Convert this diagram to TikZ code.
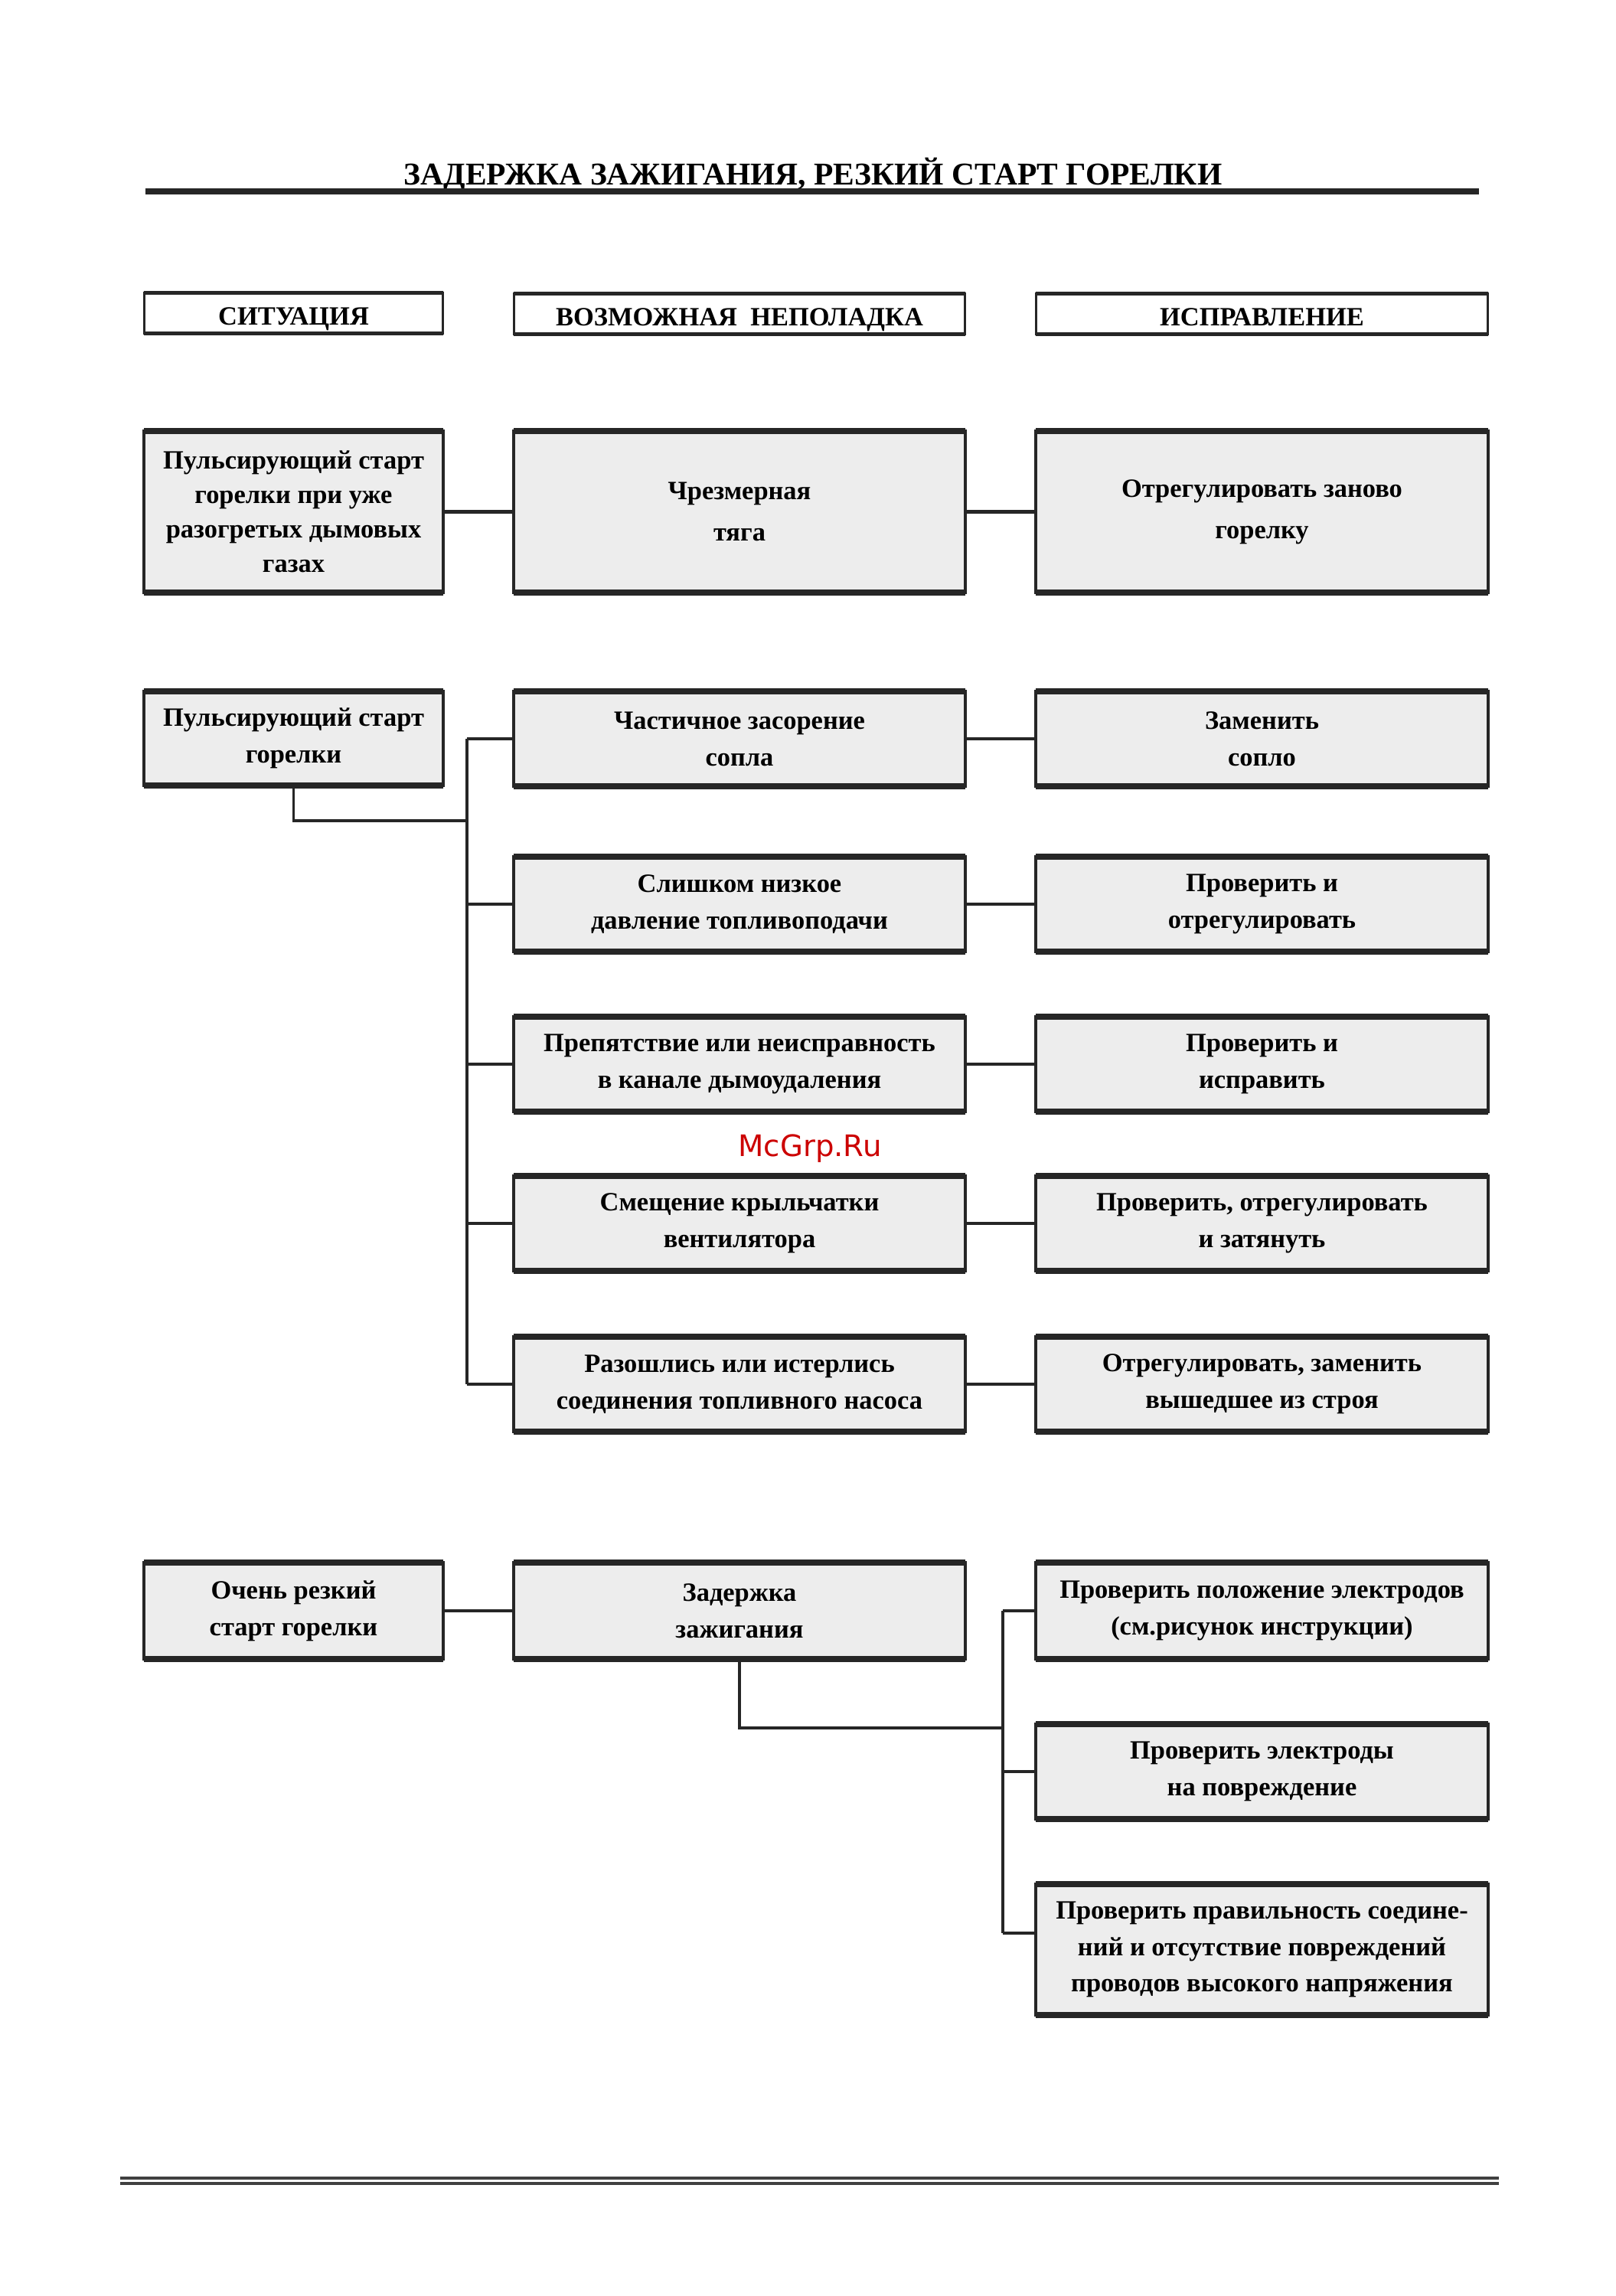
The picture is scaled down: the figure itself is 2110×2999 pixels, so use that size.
\documentclass[tikz,border=0pt]{standalone}
\usepackage{fontspec}
\setmainfont{Liberation Serif}
\newfontfamily\wmfont{DejaVu Sans}
\begin{document}
\begin{tikzpicture}[x=0.1mm,y=-0.1mm,
  txt/.style={font=\bfseries\fontsize{9.8}{13.6}\selectfont, align=center, inner sep=0pt},
  hdr/.style={txt, minimum height=5.2mm},
  cbox/.style={txt, fill=black!7, minimum height=12.2mm},
  colL/.style={minimum width=38.9mm},
  colM/.style={minimum width=58.8mm},
  colR/.style={minimum width=58.9mm},
  sideline/.style={line width=1.1pt, black!85},
  tbline/.style={line width=2.3pt, black!85},
  hside/.style={line width=0.7pt, black!85},
  htb/.style={line width=1.3pt, black!85},
  conn/.style={line width=1.3pt, black!85},
  bus/.style={line width=1pt, black!85}
]
\useasboundingbox (0,0) rectangle (2110,2999);
\newcommand\frameit[1]{%
  \draw[sideline] (#1.north west) rectangle (#1.south east);
  \draw[tbline] (#1.north west) -- (#1.north east) (#1.south west) -- (#1.south east);}
\newcommand\framehdr[1]{%
  \draw[hside] (#1.north west) rectangle (#1.south east);
  \draw[htb] (#1.north west) -- (#1.north east) (#1.south west) -- (#1.south east);}

% title
\node[font=\bfseries\fontsize{11.8}{14}\selectfont, inner sep=0pt] (title) at (1062,228) {ЗАДЕРЖКА ЗАЖИГАНИЯ, РЕЗКИЙ СТАРТ ГОРЕЛКИ};
\coordinate (tl) at (190,250);
\coordinate (tr) at (1932,250);
\draw[line width=2pt, black!85] (tl) -- (tr);

% headers
\node[hdr, colL] (h1) at (383.5,409) {\raisebox{-0.75mm}[\height][\depth]{СИТУАЦИЯ}};
\node[hdr, colM] (h2) at (966,410) {\raisebox{-0.75mm}[\height][\depth]{ВОЗМОЖНАЯ\ \ НЕПОЛАДКА}};
\node[hdr, colR] (h3) at (1648.5,410) {\raisebox{-0.4mm}[\height][\depth]{ИСПРАВЛЕНИЕ}};
\framehdr{h1}\framehdr{h2}\framehdr{h3}

% row 1
\node[cbox, colL, minimum height=20.9mm, font=\bfseries\fontsize{9.8}{12.8}\selectfont] (L1) at (383.5,668.5) {Пульсирующий старт\\горелки при уже\\разогретых дымовых\\газах};
\node[cbox, colM, minimum height=20.9mm] (M1) at (966,668.5) {Чрезмерная\\[1.8pt]тяга};
\node[cbox, colR, minimum height=20.9mm] (R1) at (1648.5,668.5) {Отрегулировать заново\\[1.8pt]горелку};
\frameit{L1}\frameit{M1}\frameit{R1}
\draw[conn] (L1.east) -- (M1.west);
\draw[conn] (M1.east) -- (R1.west);

% row 2
\node[cbox, colL] (L2) at (383.5,964.5) {Пульсирующий старт\\горелки};
\node[cbox, colM] (M2a) at (966,965) {Частичное засорение\\сопла};
\node[cbox, colM] (M2b) at (966,1181) {Слишком низкое\\давление топливоподачи};
\node[cbox, colM] (M2c) at (966,1390) {Препятствие или неисправность\\в канале дымоудаления};
\node[cbox, colM] (M2d) at (966,1598) {Смещение крыльчатки\\вентилятора};
\node[cbox, colM] (M2e) at (966,1808) {Разошлись или истерлись\\соединения топливного насоса};
\node[cbox, colR] (R2a) at (1648.5,965) {Заменить\\сопло};
\node[cbox, colR] (R2b) at (1648.5,1181) {Проверить и\\отрегулировать};
\node[cbox, colR] (R2c) at (1648.5,1390) {Проверить и\\исправить};
\node[cbox, colR] (R2d) at (1648.5,1598) {Проверить, отрегулировать\\и затянуть};
\node[cbox, colR] (R2e) at (1648.5,1808) {Отрегулировать, заменить\\вышедшее из строя};
\foreach \n in {L2,M2a,M2b,M2c,M2d,M2e,R2a,R2b,R2c,R2d,R2e}{\frameit{\n}}
\coordinate (bus2top) at (610,965);
\coordinate (bus2bot) at (610,1808);
\coordinate (bus2in) at (610,1072);
\draw[bus] (bus2top) -- (bus2bot);
\draw[bus] (L2.south) |- (bus2in);
\foreach \m/\r in {M2a/R2a,M2b/R2b,M2c/R2c,M2d/R2d,M2e/R2e}{
  \draw[conn] (\m.west) -- (\m.west -| bus2top);
  \draw[conn] (\m.east) -- (\r.west);
}

% row 3
\node[cbox, colL, minimum height=12.4mm] (L3) at (383.5,2104) {Очень резкий\\старт горелки};
\node[cbox, colM, minimum height=12.4mm] (M3) at (966,2104) {Задержка\\зажигания};
\node[cbox, colR, minimum height=12.4mm] (R3a) at (1648.5,2104) {Проверить положение электродов\\(см.рисунок инструкции)};
\node[cbox, colR] (R3b) at (1648.5,2314) {Проверить электроды\\на повреждение};
\node[cbox, colR, minimum height=16.9mm] (R3c) at (1648.5,2546.5) {Проверить правильность соедине-\\ний и отсутствие повреждений\\проводов высокого напряжения};
\foreach \n in {L3,M3,R3a,R3b,R3c}{\frameit{\n}}
\draw[conn] (L3.east) -- (M3.west);
\coordinate (bus3top) at (1310,2104);
\coordinate (bus3bot) at (1310,2525);
\coordinate (bus3in) at (1310,2257);
\coordinate (r3cin) at (R3c.west |- bus3bot);
\draw[bus] (bus3top) -- (bus3bot);
\draw[bus] (M3.south) |- (bus3in);
\draw[conn] (bus3top) -- (R3a.west);
\draw[conn] (R3b.west -| bus3top) -- (R3b.west);
\draw[conn] (bus3bot) -- (r3cin);

% watermark
\node[font=\wmfont\fontsize{11}{13}\selectfont, text=red!80!black, inner sep=0pt] (wm) at (1058,1500) {McGrp.Ru};

% bottom double line
\coordinate (b1l) at (157,2845);
\coordinate (b1r) at (1958,2845);
\coordinate (b2l) at (157,2852);
\coordinate (b2r) at (1958,2852);
\draw[line width=0.9pt, black!75] (b1l) -- (b1r);
\draw[line width=0.9pt, black!75] (b2l) -- (b2r);
\end{tikzpicture}
\end{document}
